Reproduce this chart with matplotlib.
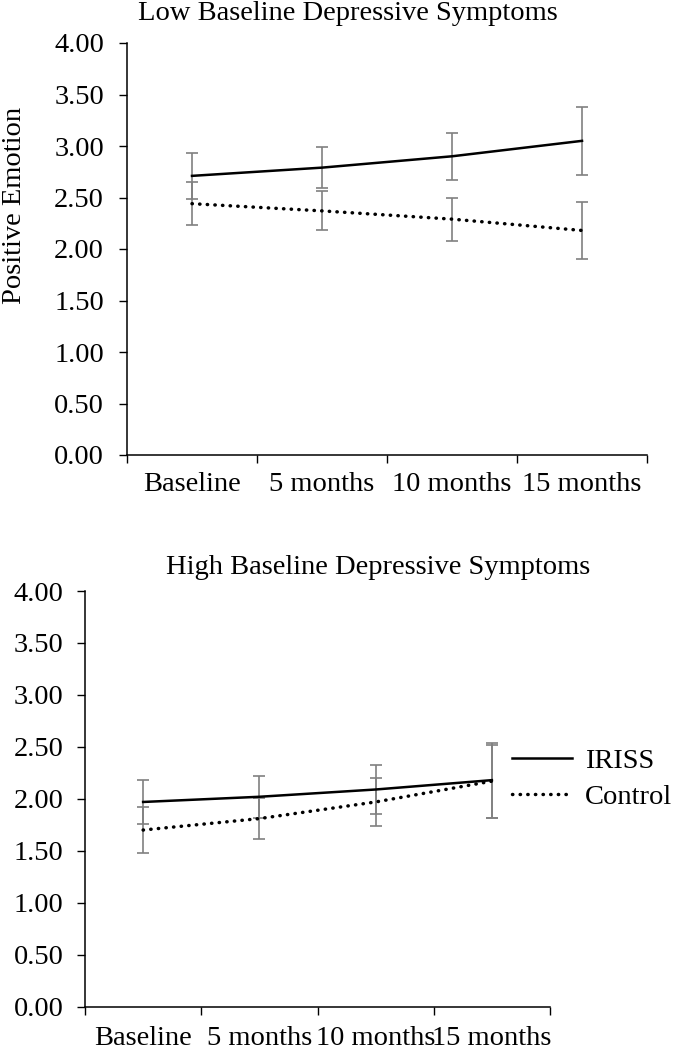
import numpy as np
import matplotlib
matplotlib.use("Agg")
import matplotlib.pyplot as plt

plt.rcParams['font.family'] = ['Liberation Serif', 'DejaVu Serif']

timepoints = ['Baseline', '5 months', '10 months', '15 months']
groups = ['IRISS', 'Control']

# low baseline depressive symptoms
low_iriss = [2.71, 2.79, 2.90, 3.05]
low_iriss_err = [0.22, 0.20, 0.23, 0.33]
low_control = [2.44, 2.37, 2.29, 2.18]
low_control_err = [0.21, 0.19, 0.21, 0.28]

# high baseline depressive symptoms
high_iriss = [1.97, 2.02, 2.09, 2.18]
high_iriss_err = [0.21, 0.20, 0.24, 0.36]
high_control = [1.70, 1.81, 1.97, 2.17]
high_control_err = [0.22, 0.20, 0.23, 0.35]

yticks = np.arange(0, 4.01, 0.5)
W, H = 673, 1050
fs = 20.5


def panel(ax, iriss, iriss_err, control, control_err, ypad, xpad):
    x = np.arange(1, len(timepoints) + 1)
    for vals, errs in [(iriss, iriss_err), (control, control_err)]:
        ax.errorbar(x, vals, yerr=errs, fmt='none', ecolor='#808080',
                    elinewidth=1.2, capsize=4.2, capthick=1.2, zorder=2)
    l1, = ax.plot(x, iriss, color='black', lw=1.8, zorder=3)
    l2, = ax.plot(x, control, color='black', lw=2.5, zorder=3,
                  linestyle=(0, (0.1, 2.1)), dash_capstyle='round')
    ax.set_xlim(0.5, len(timepoints) + 0.5)
    ax.set_ylim(0, 4)
    ax.set_yticks(yticks)
    ax.set_yticklabels(['%.2f' % v for v in yticks], fontsize=fs)
    ax.set_xticks(np.arange(0.5, len(timepoints) + 1, 1))
    ax.set_xticklabels([])
    ax.set_xticks(x, minor=True)
    ax.set_xticklabels(timepoints, minor=True, fontsize=fs)
    ax.tick_params(axis='x', which='major', direction='out', length=5.5, width=1)
    ax.tick_params(axis='x', which='minor', length=0, pad=xpad)
    ax.tick_params(axis='y', direction='out', length=5.5, width=1, pad=ypad)
    for s in ['top', 'right']:
        ax.spines[s].set_visible(False)
    for s in ['left', 'bottom']:
        ax.spines[s].set_linewidth(1.1)
    return l1, l2


fig = plt.figure(figsize=(W / 100, H / 100), dpi=100)

ax1 = fig.add_axes([127 / W, 1 - 455 / H, 520 / W, 412 / H])
panel(ax1, low_iriss, low_iriss_err, low_control, low_control_err, 11, 12)
ax1.set_ylabel('Positive Emotion', fontsize=fs)
ax1.yaxis.set_label_coords(27 / W, 1 - 205 / H, transform=fig.transFigure)
fig.text(348 / W, 1 - 13 / H, 'Low Baseline Depressive Symptoms',
         ha='center', va='center', fontsize=fs)

ax2 = fig.add_axes([85 / W, 1 - 1006.7 / H, 465 / W, 415.7 / H])
h1, h2 = panel(ax2, high_iriss, high_iriss_err, high_control, high_control_err, 10, 14)
fig.text(378 / W, 1 - 568 / H, 'High Baseline Depressive Symptoms',
         ha='center', va='center', fontsize=fs)

fig.legend([h1, h2], groups, loc='center left',
           bbox_to_anchor=(512 / W, 1 - 779 / H), bbox_transform=fig.transFigure,
           frameon=False, fontsize=fs, handlelength=2.1, handletextpad=0.45,
           borderpad=0, borderaxespad=0, labelspacing=0.35)

fig.savefig('out.png', dpi=100)
